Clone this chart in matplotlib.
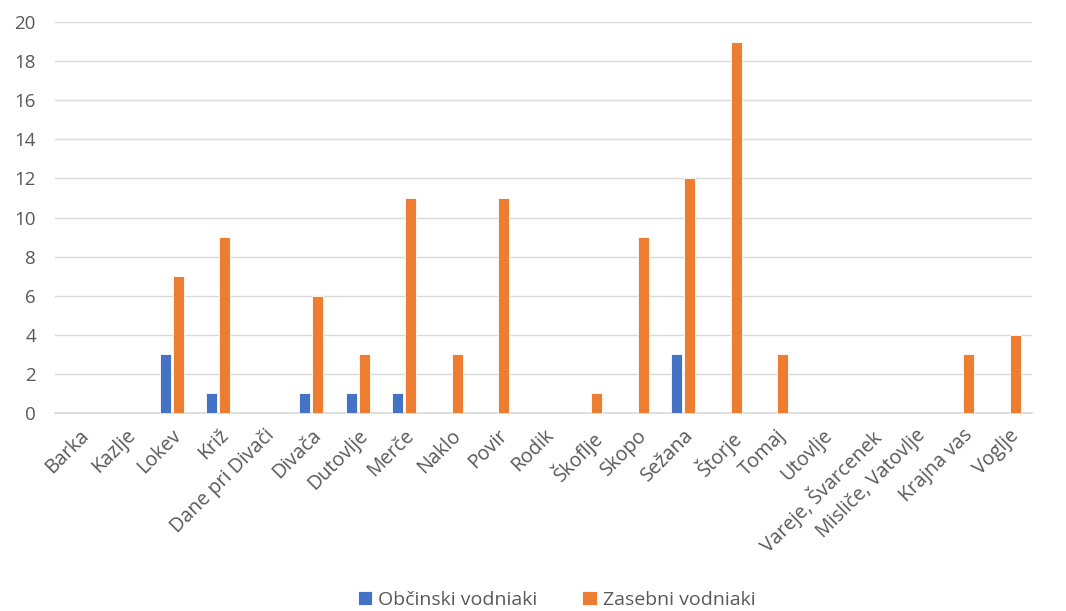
import matplotlib

matplotlib.use("Agg")
import matplotlib.pyplot as plt
import numpy as np

plt.rcParams["font.family"] = ["Open Sans", "DejaVu Sans"]

places = ["Barka", "Kazlje", "Lokev", "Križ", "Dane pri Divači", "Divača",
          "Dutovlje", "Merče", "Naklo", "Povir", "Rodik", "Škoflje", "Skopo",
          "Sežana", "Štorje", "Tomaj", "Utovlje", "Vareje, Švarcenek",
          "Misliče, Vatovlje", "Krajna vas", "Voglje"]
obcinski = [0, 0, 3, 1, 0, 1, 1, 1, 0, 0, 0, 0, 0, 3, 0, 0, 0, 0, 0, 0, 0]
zasebni = [0, 0, 7, 9, 0, 6, 3, 11, 3, 11, 0, 1, 9, 12, 19, 3, 0, 0, 0, 3, 4]

BLUE = "#4472C4"
ORANGE = "#ED7D31"
GREY = "#595959"

fig = plt.figure(figsize=(10.66, 6.11), dpi=100)
ax = fig.add_axes([0.052, 0.324, 0.916, 0.64])

x = np.arange(len(places))
w = 0.24
ax.bar(x - 0.14, obcinski, w, color=BLUE, edgecolor="white", lw=0.6,
       label="Občinski vodniaki", zorder=3)
ax.bar(x + 0.14, zasebni, w, color=ORANGE, edgecolor="white", lw=0.6,
       label="Zasebni vodniaki", zorder=3)

ax.set_xlim(-0.5, len(places) - 0.5)
ax.set_ylim(0, 20)
ax.set_yticks(range(0, 21, 2))
ax.grid(axis="y", color="#D9D9D9", lw=1.0, zorder=0)
for s in ["top", "right", "left"]:
    ax.spines[s].set_visible(False)
ax.spines["bottom"].set_color("#D9D9D9")
ax.spines["bottom"].set_linewidth(1.2)
ax.tick_params(axis="both", length=0, colors=GREY, labelsize=13.5)
ax.tick_params(axis="x", pad=9, labelsize=14.2)
ax.tick_params(axis="y", pad=14)
ax.set_xticks(x)
ax.set_xticklabels(places, rotation=45, ha="right", rotation_mode="anchor")

fig.legend(*ax.get_legend_handles_labels(), loc="center",
           bbox_to_anchor=(0.522, 1 - 600 / 611), ncol=2,
           frameon=False, fontsize=14, labelcolor=GREY, handlelength=0.75,
           handleheight=0.75, handletextpad=0.3, columnspacing=2.3)

fig.savefig("out.png", dpi=100)
